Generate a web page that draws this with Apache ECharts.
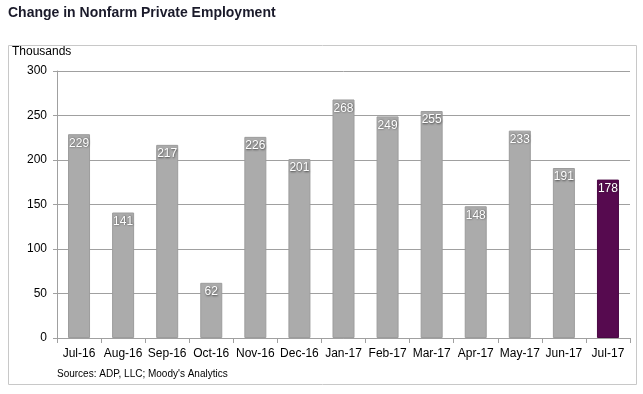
<!DOCTYPE html>
<html><head><meta charset="utf-8">
<script src="https://cdn.jsdelivr.net/npm/echarts@6/dist/echarts.min.js"></script>
<style>html,body{margin:0;padding:0;background:#fff}#c{width:643px;height:394px}</style>
</head><body><div id="c"></div>
<script>
const categories = ['Jul-16','Aug-16','Sep-16','Oct-16','Nov-16','Dec-16','Jan-17','Feb-17','Mar-17','Apr-17','May-17','Jun-17','Jul-17'];
const values = [229,141,217,62,226,201,268,249,255,148,233,191,178];
const yTicks = [0,50,100,150,200,250,300];
const grey = '#ababab', purple = '#560a4f';
const chart = echarts.init(document.getElementById('c'));
const font = 'Arial, "Liberation Sans", sans-serif';
chart.setOption({
  animation:false,
  graphic:[
    {type:'rect',shape:{x:8.5,y:45.5,width:628,height:339},style:{fill:'none',stroke:'#c8c8c8',lineWidth:1},silent:true},
    {type:'text',left:8,top:6,style:{text:'Change in Nonfarm Private Employment',font:'bold 14px '+font,fill:'#1a1a2a'}},
    {type:'text',left:12,top:46,style:{text:'Thousands',font:'12px '+font,fill:'#000'}},
    {type:'text',left:57,top:369,style:{text:"Sources: ADP, LLC; Moody's Analytics",font:'10px '+font,fill:'#000'}}
  ],
  grid:{left:57,right:13,top:71,bottom:56},
  xAxis:{type:'category',data:categories,
    axisLine:{lineStyle:{color:'#a0a0a0',width:1}},
    axisTick:{show:true,length:5,lineStyle:{color:'#a0a0a0'}},
    axisLabel:{interval:0,hideOverlap:false,color:'#000',fontFamily:font,fontSize:12,margin:10}},
  yAxis:{type:'value',min:0,max:300,interval:50,
    axisLine:{show:true,lineStyle:{color:'#a0a0a0'}},
    axisTick:{show:true,length:4,lineStyle:{color:'#a0a0a0'}},
    splitLine:{lineStyle:{color:'#a0a0a0',width:1}},
    axisLabel:{color:'#000',fontFamily:font,fontSize:12,margin:10,
      formatter:v=>yTicks.includes(v)?String(v):''}},
  series:[{type:'bar',barWidth:22,
    data:values.map((v,i)=>({value:v,itemStyle:{color:i===values.length-1?purple:grey,borderColor:i===values.length-1?'#4a0844':'#9c9c9c',borderWidth:1}})),
    label:{show:true,position:'insideTop',distance:3,color:'#fff',fontFamily:font,fontSize:12,
      textShadowColor:'rgba(40,40,40,0.8)',textShadowBlur:2,textShadowOffsetX:0.5,textShadowOffsetY:0.5}}]
});
</script></body></html>
